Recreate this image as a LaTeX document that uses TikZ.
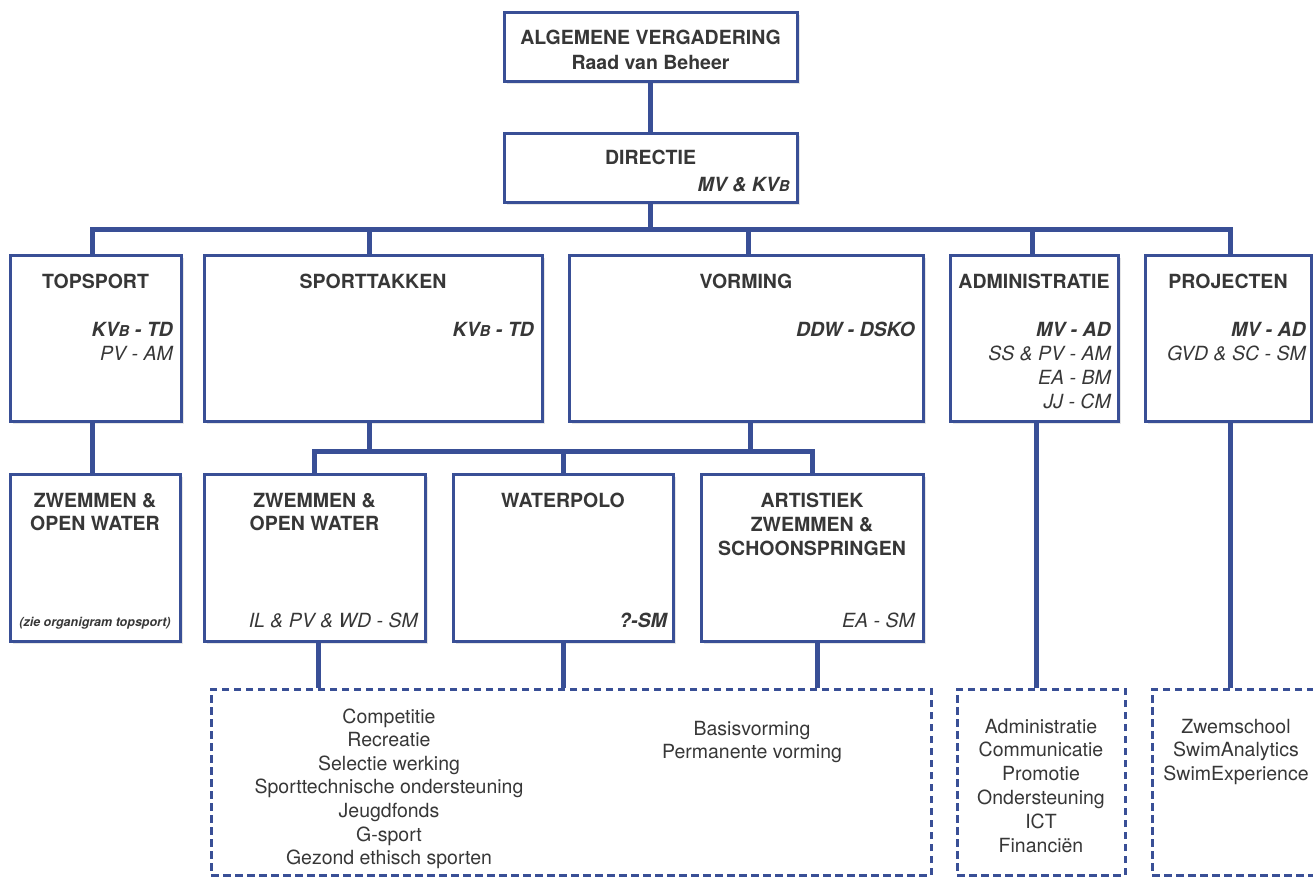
\documentclass[tikz,border=0pt]{standalone}
\usepackage{fontspec}
\setmainfont{TeX Gyre Heros}
\usetikzlibrary{shadows}
\definecolor{orgblue}{RGB}{57,79,150}
\definecolor{orgtext}{RGB}{55,55,55}
\newcommand{\kvb}{KV{\fontsize{15}{15}\selectfont B}}
\newcommand{\orgfont}{\fontsize{19.5}{23.5}\selectfont}
\begin{document}
\begin{tikzpicture}[x=1pt,y=-1pt,line join=miter,
  wh/.style 2 args={minimum width=#1,minimum height=#2},
  unit/.style={draw=orgblue,line width=3pt,fill=white,inner sep=0pt,
    drop shadow={shadow xshift=2.5pt,shadow yshift=-2.5pt,opacity=.2}},
  tasks/.style={draw=orgblue,line width=3pt,dash pattern=on 7.5pt off 4.5pt,inner sep=0pt},
  link/.style={draw=orgblue,line width=5pt},
  ttl/.style={anchor=base,font=\orgfont\bfseries,text=orgtext,inner sep=0pt},
  who/.style={anchor=base east,font=\orgfont\bfseries\itshape,text=orgtext,inner sep=0pt},
  whoo/.style={anchor=base east,font=\orgfont\itshape,text=orgtext,inner sep=0pt},
  item/.style={anchor=base,font=\orgfont,text=orgtext,inner sep=0pt}]
  \clip (0,0) rectangle (1313,877);
  % boxes
  \node[unit,wh={293pt}{69pt}] (av) at (650.5,47.5) {};
  \node[unit,wh={293pt}{69pt}] (dir) at (650.5,168.5) {};
  \node[unit,wh={171pt}{166pt}] (top) at (95.5,338) {};
  \node[unit,wh={338pt}{166pt}] (spt) at (373,338) {};
  \node[unit,wh={354pt}{166pt}] (vrm) at (746,338) {};
  \node[unit,wh={168pt}{166pt}] (adm) at (1034,338) {};
  \node[unit,wh={166pt}{166pt}] (prj) at (1228,338) {};
  \node[unit,wh={170pt}{167pt}] (tzw) at (95,557.5) {};
  \node[unit,wh={221pt}{167pt}] (szw) at (314.5,557.5) {};
  \node[unit,wh={220pt}{167pt}] (wp) at (563,557.5) {};
  \node[unit,wh={222pt}{167pt}] (az) at (812,557.5) {};
  \node[tasks,wh={720pt}{186pt}] (d1) at (571,782) {};
  \node[tasks,wh={168pt}{186pt}] (d2) at (1041,782) {};
  \node[tasks,wh={168pt}{186pt}] (d3) at (1236,782) {};
  % connectors
  \coordinate (bus) at (650.5,230);
  \coordinate (bus2) at (563,451);
  \draw[link] (av.south) -- (dir.north);
  \draw[link] (dir.south) -- (bus);
  \draw[link] ([xshift=-3.5pt]top.north) |- (bus) -| ([xshift=2pt]prj.north);
  \draw[link] ([xshift=-4pt]spt.north) -- ([xshift=-4pt]spt.north |- bus);
  \draw[link] ([xshift=2pt]vrm.north) -- ([xshift=2pt]vrm.north |- bus);
  \draw[link] ([xshift=-2pt]adm.north) -- ([xshift=-2pt]adm.north |- bus);
  \draw[link] ([xshift=-3.5pt]top.south) -- ([xshift=-3pt]tzw.north);
  \draw[link] ([xshift=-4pt]spt.south) -- ([xshift=-4pt]spt.south |- bus2);
  \draw[link] ([xshift=4pt]vrm.south) -- ([xshift=4pt]vrm.south |- bus2);
  \draw[link] (szw.north) |- (bus2) -| (az.north);
  \draw[link] (wp.north) -- (bus2);
  \draw[link] ([xshift=3.5pt]szw.south) -- ([xshift=3.5pt]szw.south |- d1.north);
  \draw[link] (wp.south) -- (wp.south |- d1.north);
  \draw[link] ([xshift=5pt]az.south) -- ([xshift=5pt]az.south |- d1.north);
  \draw[link] ([xshift=2pt]adm.south) -- ([xshift=2pt]adm.south |- d2.north);
  \draw[link] ([xshift=2pt]prj.south) -- ([xshift=2pt]prj.south |- d3.north);
  % titles
  \node[ttl] (avt) at (650.5,45) {ALGEMENE VERGADERING};
  \node[ttl] (avs) at (650.5,70) {Raad van Beheer};
  \node[ttl] (dirt) at (650.5,165) {DIRECTIE};
  \node[who] (dirw) at (790,192) {MV \& \kvb};
  \node[ttl] (topt) at (95.5,288) {TOPSPORT};
  \node[ttl] (sptt) at (373,288) {SPORTTAKKEN};
  \node[ttl] (vrmt) at (746,288) {VORMING};
  \node[ttl] (admt) at (1034,288) {ADMINISTRATIE};
  \node[ttl] (prjt) at (1228,288) {PROJECTEN};
  \node[who] (topw) at (173,336) {\kvb{} - TD};
  \node[whoo] (topw2) at (173,360) {PV - AM};
  \node[who] (sptw) at (534,336) {\kvb{} - TD};
  \node[who] (vrmw) at (915,336) {DDW - DSKO};
  \node[who] (admw) at (1111,336) {MV - AD};
  \node[whoo] (admw2) at (1111,360) {SS \& PV - AM};
  \node[whoo] (admw3) at (1111,384) {EA - BM};
  \node[whoo] (admw4) at (1111,408) {JJ - CM};
  \node[who] (prjw) at (1306,336) {MV - AD};
  \node[whoo] (prjw2) at (1306,360) {GVD \& SC - SM};
  \node[ttl] (tzwt) at (95,507) {ZWEMMEN \&};
  \node[ttl] (tzwt2) at (95,530) {OPEN WATER};
  \node[ttl,font=\fontsize{12.5}{14}\selectfont\bfseries\itshape] (tzwn) at (95,626) {(zie organigram topsport)};
  \node[ttl] (szwt) at (314.5,507) {ZWEMMEN \&};
  \node[ttl] (szwt2) at (314.5,530) {OPEN WATER};
  \node[whoo] (szww) at (418,627) {IL \& PV \& WD - SM};
  \node[ttl] (wpt) at (563,507) {WATERPOLO};
  \node[who] (wpw) at (667,627) {?-SM};
  \node[ttl] (azt) at (812,507) {ARTISTIEK};
  \node[ttl] (azt2) at (812,531) {ZWEMMEN \&};
  \node[ttl] (azt3) at (812,555) {SCHOONSPRINGEN};
  \node[whoo] (azw) at (915,627) {EA - SM};
  % task lists
  \foreach \t [count=\i] in {Competitie,Recreatie,Selectie werking,Sporttechnische ondersteuning,Jeugdfonds,G-sport,Gezond ethisch sporten}
    \node[item] (sp\i) at (389,699.4+23.6*\i) {\t};
  \foreach \t [count=\i] in {Basisvorming,Permanente vorming}
    \node[item] (vo\i) at (752,711.4+23.6*\i) {\t};
  \foreach \t [count=\i] in {Administratie,Communicatie,Promotie,Ondersteuning,ICT,Financiën}
    \node[item] (ad\i) at (1041,709.2+23.8*\i) {\t};
  \foreach \t [count=\i] in {Zwemschool,SwimAnalytics,SwimExperience}
    \node[item] (pr\i) at (1236,709.2+23.8*\i) {\t};
\end{tikzpicture}
\end{document}
